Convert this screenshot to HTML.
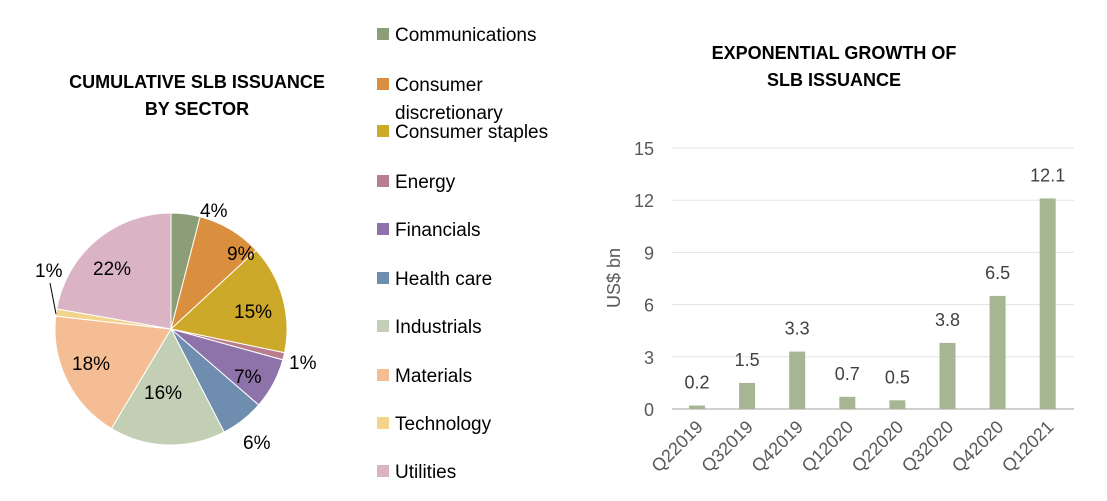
<!DOCTYPE html>
<html><head><meta charset="utf-8"><style>
body{margin:0;background:#fff;width:1107px;height:496px;overflow:hidden}
svg{font-family:"Liberation Sans",Calibri,sans-serif}
</style></head><body>
<svg id="s" width="1107" height="496" xmlns="http://www.w3.org/2000/svg">
<g font-weight="bold" font-size="18" fill="#000" text-anchor="middle">
<text x="197" y="88">CUMULATIVE SLB ISSUANCE</text>
<text x="197" y="115">BY SECTOR</text>
<text x="834" y="59">EXPONENTIAL GROWTH OF</text>
<text x="834" y="86">SLB ISSUANCE</text>
</g>
<g id="pie"></g>
<g font-size="19" fill="#000">
<text x="200" y="217">4%</text>
<text x="227" y="260">9%</text>
<text x="234" y="318">15%</text>
<text x="289" y="369">1%</text>
<text x="234" y="383">7%</text>
<text x="243" y="449">6%</text>
<text x="144" y="399">16%</text>
<text x="72" y="370">18%</text>
<text x="35" y="277">1%</text>
<text x="93" y="275">22%</text>
</g>
<line x1="50" y1="283" x2="56" y2="314" stroke="#000" stroke-width="1"/>
<g id="leg" font-size="19" fill="#000"></g>
<g id="bar"></g>
</svg>
<script>
var NS="http://www.w3.org/2000/svg";
function el(t,a,p,txt){var e=document.createElementNS(NS,t);for(var k in a)e.setAttribute(k,a[k]);if(txt!=null)e.textContent=txt;p.appendChild(e);return e;}
var data=[["Communications",4,"#8c9e78"],["Consumer discretionary",9,"#d98f3e"],["Consumer staples",15,"#cda92a"],["Energy",1,"#b97e8e"],["Financials",7,"#8e72aa"],["Health care",6,"#6f8daf"],["Industrials",16,"#c3cfb5"],["Materials",18,"#f5bd94"],["Technology",1,"#f2d48a"],["Utilities",22,"#dab4c4"]];
var cx=171,cy=329,r=116,tot=99,a=0,pie=document.getElementById("pie");
data.forEach(function(d){var a0=a/tot*2*Math.PI,a1=(a+d[1])/tot*2*Math.PI;a+=d[1];
var x0=cx+r*Math.sin(a0),y0=cy-r*Math.cos(a0),x1=cx+r*Math.sin(a1),y1=cy-r*Math.cos(a1);
el("path",{d:"M"+cx+","+cy+"L"+x0+","+y0+"A"+r+","+r+" 0 "+((a1-a0)>Math.PI?1:0)+",1 "+x1+","+y1+"Z",fill:d[2],stroke:"#fff","stroke-width":1},pie);});
var leg=document.getElementById("leg"),ys=[34,84,131,181,229,278,326,375,423,471];
data.forEach(function(d,i){var y=ys[i];el("rect",{x:377,y:y-6,width:12,height:12,fill:d[2]},leg);
if(i==1){el("text",{x:395,y:y+7},leg,"Consumer");el("text",{x:395,y:y+35},leg,"discretionary");}
else el("text",{x:395,y:y+7},leg,d[0]);});
var b=document.getElementById("bar"),y0=409,u=17.4;
[0,3,6,9,12,15].forEach(function(v){var y=y0-v*u;el("line",{x1:672,x2:1074,y1:y,y2:y,stroke:v?"#e3e3e3":"#d0d0d0","stroke-width":v?1:2},b);
el("text",{x:654,y:y+7,"text-anchor":"end","font-size":18,fill:"#595959"},b,v);});
el("text",{x:0,y:0,transform:"translate(620,278) rotate(-90)","text-anchor":"middle","font-size":18,fill:"#595959"},b,"US$ bn");
var lab=["Q22019","Q32019","Q42019","Q12020","Q22020","Q32020","Q42020","Q12021"],val=[0.2,1.5,3.3,0.7,0.5,3.8,6.5,12.1];
lab.forEach(function(l,i){var x=697+i*50.1,h=val[i]*u;
el("rect",{x:x-8,y:y0-h,width:16,height:h,fill:"#a6b693"},b);
el("text",{x:x,y:y0-h-17,"text-anchor":"middle","font-size":18,fill:"#404040"},b,val[i]);
el("text",{x:0,y:0,transform:"translate("+(x+7)+",428) rotate(-45)","text-anchor":"end","font-size":18,fill:"#595959"},b,l);});
</script>
</body></html>
